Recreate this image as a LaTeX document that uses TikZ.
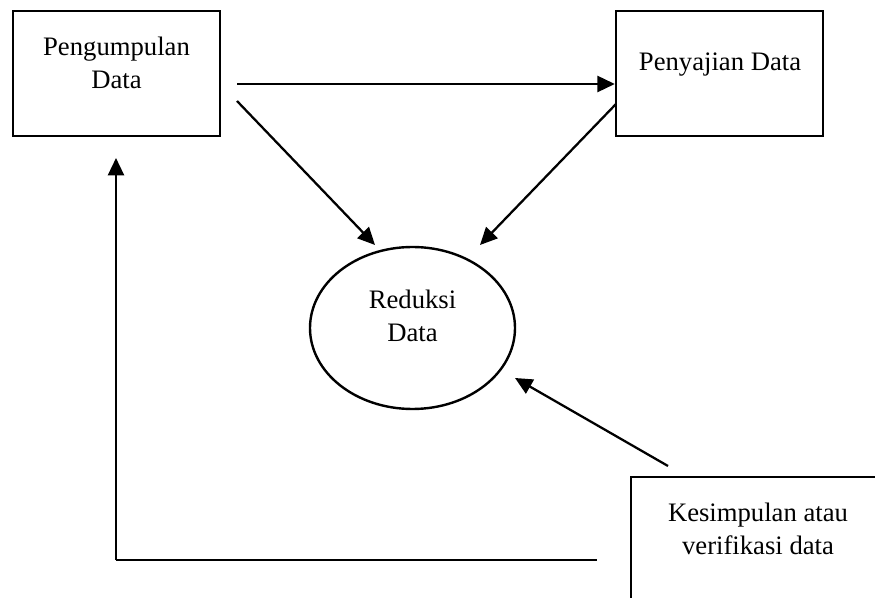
\documentclass[tikz,border=0pt]{standalone}
\usepackage{fontspec}
\setmainfont{Liberation Serif}
\usetikzlibrary{shapes,arrows,positioning,calc,arrows.meta}

\begin{document}
\begin{tikzpicture}[x=0.75pt,y=-0.75pt,
    box/.style={draw, line width=1.8pt, minimum width=155.25pt, minimum height=93.75pt, inner sep=0pt},
    lbl/.style={align=center, font=\fontsize{20}{24.75}\selectfont, inner sep=0pt},
    arr/.style={line width=1.7pt, -{Triangle[length=13pt,width=12pt]}}]
    \useasboundingbox (0,0) rectangle (875,598);

    \node[box] (pengumpulan) at (116.5,73.5) {};
    \node[lbl] (pengumpulanTxt) at (116.5,62.5) {Pengumpulan\\Data};

    \node[box] (penyajian) at (719.5,73.5) {};
    \node[lbl] (penyajianTxt) at (720,65) {Penyajian Data};

    \node[draw, ellipse, line width=1.8pt, minimum width=153.75pt, minimum height=121.5pt, inner sep=0pt] (reduksi) at (412.5,328) {};
    \node[lbl] (reduksiTxt) at (412.5,315.5) {Reduksi\\Data};

    \node[draw, line width=1.8pt, minimum width=201.75pt, minimum height=107.25pt, inner sep=0pt] (kesimpulan) at (765.5,548.5) {};
    \node[lbl] (kesimpulanTxt) at (758,528.5) {Kesimpulan atau\\verifikasi data};

    % ujung bebas panah
    \coordinate (pdStart) at (237,84);
    \coordinate (pStart) at (237,101);
    \coordinate (rTipL) at (375,245);
    \coordinate (sStart) at (616,104);
    \coordinate (rTipR) at (480,245);
    \coordinate (kStart) at (668,466);
    \coordinate (rTipB) at (515,378);
    \coordinate (fbCorner) at (116,560);
    \coordinate (fbEnd) at (597,560);
    \coordinate (fbTip) at (116,158);

    \draw[arr] (pdStart) -- (pdStart -| penyajian.west);
    \draw[arr] (pStart) -- (rTipL);
    \draw[arr] (sStart) -- (rTipR);
    \draw[arr] (kStart) -- (rTipB);

    \draw[line width=1pt] (fbCorner) -- (fbEnd);
    \draw[arr] (fbCorner) -- (fbTip);
\end{tikzpicture}
\end{document}
